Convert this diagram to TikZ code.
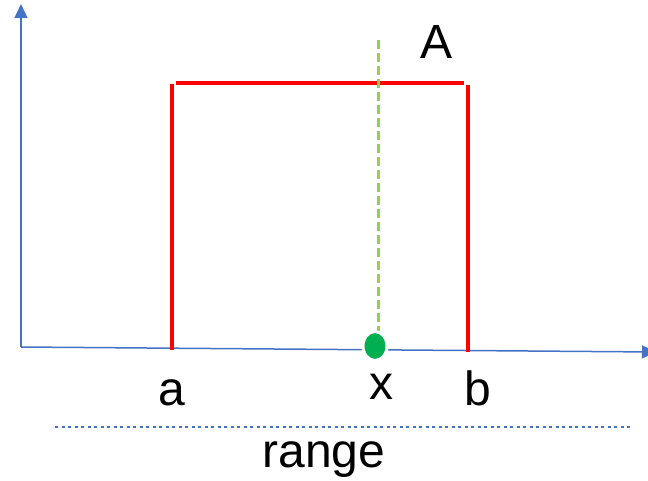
\documentclass[tikz,border=0pt]{standalone}
\usepackage{fontspec}
\setmainfont{Liberation Sans}
\usetikzlibrary{arrows.meta, shapes.geometric}
\definecolor{axisblue}{HTML}{4472C4}
\definecolor{lightgreen}{HTML}{92D050}
\definecolor{dotgreen}{HTML}{00B050}
\tikzset{
  axis/.style = {axisblue, line width=1.5pt, -{Triangle[width=13pt,length=14pt]}},
  box/.style = {red, line width=4.5pt},
  lbl/.style = {font=\fontsize{48}{56}\selectfont, inner sep=0pt}
}
\begin{document}
\begin{tikzpicture}[x=1pt, y=-1pt]
	\useasboundingbox (0,0) rectangle (648,480);
	% axes
	\coordinate (O) at (21,347);
	\coordinate (ytip) at (21,4);
	\coordinate (xtip) at (656,352);
	\draw[axis] (O) -- (ytip);
	\draw[axis] (O) -- (xtip);
	% the box
	\coordinate (a0) at (172,350);
	\coordinate (a1) at (172,84);
	\coordinate (t0) at (176,83);
	\coordinate (t1) at (464,83);
	\coordinate (b1) at (468,85);
	\coordinate (b0) at (468,352);
	\draw[box] (a0) -- (a1);
	\draw[box] (t0) -- (t1);
	\draw[box] (b1) -- (b0);
	% the point x
	\coordinate (g0) at (378,40);
	\coordinate (g1) at (378,334);
	\draw[lightgreen, line width=3pt, dash pattern=on 9pt off 4pt] (g0) -- (g1);
	\node[ellipse, fill=dotgreen, draw=white, line width=3pt, minimum width=24pt, minimum height=29pt, inner sep=0pt] (dot) at (375,346) {};
	% labels
	\node[lbl, anchor=base] (A) at (437,58) {A};
	\node[lbl, anchor=base] (la) at (172,405) {a};
	\node[lbl, anchor=base] (lx) at (381,399) {x};
	\node[lbl, anchor=base] (lb) at (478,405) {b};
	% range
	\coordinate (r0) at (55,427);
	\coordinate (r1) at (633,427);
	\draw[axisblue, line width=2.5pt, dash pattern=on 3pt off 3.5pt] (r0) -- (r1);
	\node[lbl, anchor=base] (range) at (324,467) {range};
\end{tikzpicture}
\end{document}
